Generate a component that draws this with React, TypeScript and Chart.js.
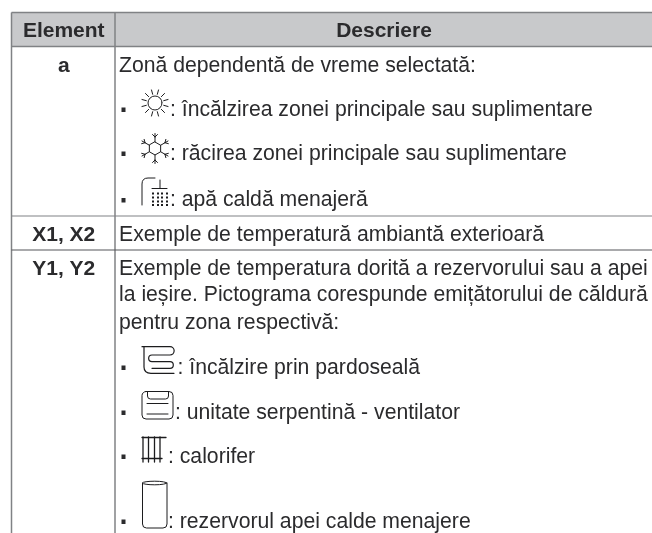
import React, { useEffect, useRef } from "react";
import { Chart, registerables } from "chart.js";

Chart.register(...registerables);

const W = 652;
const H = 533;

const headerLabels = ["Element", "Descriere"];
const elementLabels = ["a", "X1, X2", "Y1, Y2"];
const introLines = [
  "Zonă dependentă de vreme selectată:",
  "Exemple de temperatură ambiantă exterioară",
  "Exemple de temperatura dorită a rezervorului sau a apei",
  "la ieșire. Pictograma corespunde emițătorului de căldură",
  "pentru zona respectivă:",
];
const bulletLines = [
  ": încălzirea zonei principale sau suplimentare",
  ": răcirea zonei principale sau suplimentare",
  ": apă caldă menajeră",
  ": încălzire prin pardoseală",
  ": unitate serpentină - ventilator",
  ": calorifer",
  ": rezervorul apei calde menajere",
];

// layout of the table, in page pixels (value space of the two hidden axes)
const colLeft = 11.5;
const colMid = 115;
const colTextX = 119;
const headerTop = 12.5;
const headerBottom = 46.5;
const rowLines = [216, 250];
const elementBaselines = [71.5, 241, 275];
const introBaselines = [71.5, 241, 275, 301, 328.5];
const bulletBaselines = [115.5, 159.5, 206, 373.5, 418.5, 462.5, 527.5];
const bulletTextX = [170, 170, 170, 177.5, 175, 168, 168];

const FONT = '"Liberation Sans", Arial, sans-serif';
const INK = "#2b2b2d";

const tablePlugin = {
  id: "table",
  afterDraw(chart: any) {
    const { ctx, scales } = chart;
    const X = (v: number) => scales.x.getPixelForValue(v);
    const Y = (v: number) => scales.y.getPixelForValue(v);
    const line = (x1: number, y1: number, x2: number, y2: number) => {
      ctx.beginPath();
      ctx.moveTo(X(x1), Y(y1));
      ctx.lineTo(X(x2), Y(y2));
      ctx.stroke();
    };

    ctx.save();
    ctx.fillStyle = "#ffffff";
    ctx.fillRect(0, 0, W, H);

    // header band
    ctx.fillStyle = "#c8c9cb";
    ctx.fillRect(X(colLeft), Y(headerTop), X(W) - X(colLeft), Y(headerBottom) - Y(headerTop));

    // grid
    ctx.strokeStyle = "#808285";
    ctx.lineWidth = 1.5;
    line(colLeft, headerTop, W, headerTop);
    line(colLeft, headerBottom, W, headerBottom);
    line(colLeft, headerTop, colLeft, H);
    line(colMid, headerTop, colMid, H);
    ctx.lineWidth = 1.2;
    line(colLeft, rowLines[0], W, rowLines[0]);
    ctx.strokeStyle = "#55565a";
    line(colLeft, rowLines[1], W, rowLines[1]);

    // header + first column
    ctx.fillStyle = INK;
    ctx.textBaseline = "alphabetic";
    ctx.textAlign = "center";
    ctx.font = `bold 21px ${FONT}`;
    ctx.fillText(headerLabels[0], X((colLeft + colMid) / 2 + 0.5), Y(36.5));
    ctx.fillText(headerLabels[1], X(384), Y(36.5));
    elementLabels.forEach((t, i) =>
      ctx.fillText(t, X((colLeft + colMid) / 2 + 0.5), Y(elementBaselines[i]))
    );

    // description column
    ctx.textAlign = "left";
    ctx.font = `21.2px ${FONT}`;
    introLines.forEach((t, i) => ctx.fillText(t, X(colTextX), Y(introBaselines[i])));
    bulletLines.forEach((t, i) => {
      ctx.fillStyle = INK;
      ctx.fillText(t, X(bulletTextX[i]), Y(bulletBaselines[i]));
      ctx.fillRect(X(121.5), Y(bulletBaselines[i] - 8), 4, 4.5);
    });

    // pictograms
    ctx.strokeStyle = "#1c1c1e";
    ctx.fillStyle = "#1c1c1e";
    ctx.lineWidth = 1;
    ctx.lineCap = "round";

    // sun
    const sx = 155;
    const sy = 103;
    ctx.beginPath();
    ctx.arc(X(sx), Y(sy), 7, 0, Math.PI * 2);
    ctx.stroke();
    [0, 1, 2, 3, 4, 5, 6, 7, 8, 9, 10, 11].forEach((k) => {
      const a = (k * Math.PI) / 6 + Math.PI / 12;
      line(sx + 9 * Math.cos(a), sy + 9 * Math.sin(a), sx + 13.5 * Math.cos(a), sy + 13.5 * Math.sin(a));
    });

    // snowflake
    const fx = 155;
    const fy = 148.5;
    ctx.beginPath();
    [0, 1, 2, 3, 4, 5].forEach((k) => {
      const a = (k * Math.PI) / 3 - Math.PI / 2;
      const px = X(fx + 6.5 * Math.cos(a));
      const py = Y(fy + 6.5 * Math.sin(a));
      if (k === 0) ctx.moveTo(px, py);
      else ctx.lineTo(px, py);
    });
    ctx.closePath();
    ctx.stroke();
    [0, 1, 2, 3, 4, 5].forEach((k) => {
      const a = (k * Math.PI) / 3 - Math.PI / 2;
      const c = Math.cos(a);
      const s = Math.sin(a);
      line(fx + 6.5 * c, fy + 6.5 * s, fx + 15 * c, fy + 15 * s);
      const bx = fx + 11.5 * c;
      const by = fy + 11.5 * s;
      const t1 = a + Math.PI / 4;
      const t2 = a - Math.PI / 4;
      line(bx, by, bx + 3.5 * Math.cos(t1), by + 3.5 * Math.sin(t1));
      line(bx, by, bx + 3.5 * Math.cos(t2), by + 3.5 * Math.sin(t2));
    });

    // shower
    ctx.beginPath();
    ctx.moveTo(X(142), Y(205));
    ctx.lineTo(X(142), Y(184));
    ctx.quadraticCurveTo(X(142), Y(178), X(148), Y(178));
    ctx.lineTo(X(155), Y(178));
    ctx.stroke();
    line(152, 188.5, 167, 188.5);
    line(160, 180, 160, 188.5);
    [152, 157, 161, 166].forEach((dx) =>
      [192.5, 196.5, 200.5, 204].forEach((dy) => ctx.fillRect(X(dx), Y(dy), 2, 2))
    );

    // underfloor coil
    ctx.lineWidth = 1.2;
    ctx.beginPath();
    ctx.moveTo(X(142), Y(346.7));
    ctx.lineTo(X(170), Y(346.7));
    ctx.arc(X(170), Y(350.85), 4.15, -Math.PI / 2, Math.PI / 2);
    ctx.lineTo(X(152), Y(355));
    ctx.arc(X(152), Y(358.35), 3.35, -Math.PI / 2, Math.PI / 2, true);
    ctx.lineTo(X(170), Y(361.7));
    ctx.arc(X(170), Y(365), 3.3, -Math.PI / 2, Math.PI / 2);
    ctx.lineTo(X(152), Y(368.3));
    ctx.stroke();
    ctx.beginPath();
    ctx.moveTo(X(144), Y(347));
    ctx.lineTo(X(144), Y(367));
    ctx.quadraticCurveTo(X(144), Y(373.3), X(151), Y(373.3));
    ctx.lineTo(X(174), Y(373.3));
    ctx.stroke();
    ctx.lineWidth = 1;

    // fan coil
    ctx.beginPath();
    ctx.roundRect(X(142), Y(391.5), 31, 27.5, 4);
    ctx.stroke();
    ctx.beginPath();
    ctx.moveTo(X(147.5), Y(391.5));
    ctx.lineTo(X(147.5), Y(396));
    ctx.quadraticCurveTo(X(147.5), Y(399), X(150.5), Y(399));
    ctx.lineTo(X(165.5), Y(399));
    ctx.quadraticCurveTo(X(168.5), Y(399), X(168.5), Y(396));
    ctx.lineTo(X(168.5), Y(391.5));
    ctx.stroke();
    line(147, 403.5, 168, 403.5);
    line(147, 414, 168, 414);

    // radiator
    ctx.lineWidth = 1.3;
    line(142, 437.5, 166, 437.5);
    line(142, 458.5, 162, 458.5);
    [143, 148.5, 154.5, 160].forEach((vx) => line(vx, 437, vx, 462));
    ctx.lineWidth = 1;

    // tank
    ctx.beginPath();
    ctx.moveTo(X(142.5), Y(483));
    ctx.lineTo(X(142.5), Y(524));
    ctx.quadraticCurveTo(X(142.5), Y(528), X(146.5), Y(528));
    ctx.lineTo(X(163), Y(528));
    ctx.quadraticCurveTo(X(167), Y(528), X(167), Y(524));
    ctx.lineTo(X(167), Y(483));
    ctx.stroke();
    ctx.beginPath();
    ctx.ellipse(X(154.75), Y(483), 12.25, 1.8, 0, 0, Math.PI * 2);
    ctx.stroke();

    ctx.restore();
  },
};

export default function App() {
  const ref = useRef<HTMLCanvasElement>(null);
  useEffect(() => {
    const chart = new Chart(ref.current as HTMLCanvasElement, {
      type: "scatter",
      data: { datasets: [{ data: [] }] },
      options: {
        animation: false,
        responsive: false,
        layout: { padding: 0 },
        plugins: { legend: { display: false }, tooltip: { enabled: false } },
        scales: {
          x: { type: "linear", display: false, min: 0, max: W },
          y: { type: "linear", display: false, min: 0, max: H, reverse: true },
        },
      },
      plugins: [tablePlugin],
    } as any);
    return () => chart.destroy();
  }, []);
  return (
    <canvas
      ref={ref}
      width={W}
      height={H}
      style={{ position: "fixed", left: 0, top: 0, width: W, height: H, display: "block" }}
    />
  );
}
